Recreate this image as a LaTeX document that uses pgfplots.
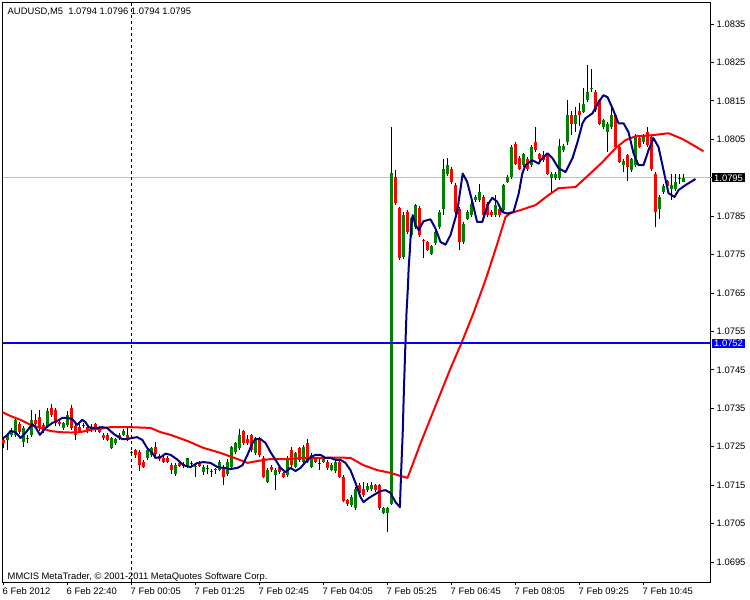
\documentclass[border=0pt]{standalone}
\usepackage{fontspec}
\setmainfont{Liberation Sans}
\usepackage{pgfplots}
\usepackage{pgfplotstable}
\pgfplotsset{compat=1.18}

\definecolor{mtgreen}{HTML}{008000}
\definecolor{mtred}{HTML}{FF0000}
\definecolor{mtnavy}{HTML}{000080}
\definecolor{mtsilver}{HTML}{C0C0C0}
\definecolor{mtblue}{HTML}{0000FF}

\newcommand\mtfont{\fontsize{9.4}{11}\selectfont}

% AUDUSD M5 bars: index, open, high, low, close
\pgfplotstableread{
i o h l c
0 1.07268 1.07275 1.07246 1.07259
1 1.07268 1.07285 1.07242 1.07281
2 1.07281 1.07298 1.07275 1.07291
3 1.07281 1.07328 1.07275 1.07320
4 1.07308 1.07315 1.07283 1.07289
5 1.07263 1.07303 1.07250 1.07298
6 1.07272 1.07281 1.07259 1.07273
7 1.07281 1.07346 1.07275 1.07320
8 1.07320 1.07335 1.07303 1.07308
9 1.07328 1.07346 1.07290 1.07298
10 1.07307 1.07312 1.07286 1.07291
11 1.07305 1.07350 1.07300 1.07342
12 1.07350 1.07361 1.07328 1.07333
13 1.07346 1.07352 1.07305 1.07311
14 1.07315 1.07320 1.07303 1.07308
15 1.07298 1.07315 1.07293 1.07311
16 1.07307 1.07342 1.07302 1.07333
17 1.07350 1.07359 1.07293 1.07298
18 1.07305 1.07310 1.07268 1.07281
19 1.07302 1.07308 1.07286 1.07291
20 1.07305 1.07312 1.07298 1.07304
21 1.07302 1.07307 1.07286 1.07291
22 1.07294 1.07308 1.07289 1.07302
23 1.07308 1.07313 1.07288 1.07294
24 1.07301 1.07305 1.07285 1.07289
25 1.07281 1.07286 1.07268 1.07272
26 1.07281 1.07285 1.07264 1.07268
27 1.07248 1.07276 1.07244 1.07272
28 1.07259 1.07274 1.07255 1.07269
29 1.07281 1.07285 1.07268 1.07272
30 1.07281 1.07296 1.07277 1.07291
31 1.07281 1.07302 1.07265 1.07269
32 1.07236 1.07239 1.07229 1.07237
33 1.07241 1.07243 1.07220 1.07228
34 1.07237 1.07241 1.07187 1.07202
35 1.07211 1.07215 1.07194 1.07198
36 1.07220 1.07245 1.07215 1.07241
37 1.07228 1.07250 1.07224 1.07246
38 1.07250 1.07263 1.07225 1.07230
39 1.07226 1.07230 1.07213 1.07217
40 1.07222 1.07226 1.07207 1.07211
41 1.07222 1.07225 1.07207 1.07211
42 1.07203 1.07208 1.07178 1.07190
43 1.07178 1.07207 1.07174 1.07203
44 1.07207 1.07210 1.07198 1.07201
45 1.07205 1.07210 1.07195 1.07200
46 1.07198 1.07222 1.07194 1.07220
47 1.07206 1.07213 1.07200 1.07207
48 1.07198 1.07204 1.07172 1.07199
49 1.07209 1.07213 1.07197 1.07200
50 1.07185 1.07202 1.07176 1.07198
51 1.07194 1.07203 1.07180 1.07195
52 1.07185 1.07191 1.07172 1.07186
53 1.07190 1.07196 1.07180 1.07191
54 1.07189 1.07215 1.07186 1.07211
55 1.07198 1.07202 1.07150 1.07172
56 1.07178 1.07217 1.07174 1.07211
57 1.07198 1.07252 1.07194 1.07249
58 1.07237 1.07263 1.07230 1.07259
59 1.07246 1.07296 1.07241 1.07281
60 1.07290 1.07294 1.07254 1.07259
61 1.07270 1.07280 1.07255 1.07259
62 1.07281 1.07284 1.07237 1.07242
63 1.07233 1.07276 1.07228 1.07272
64 1.07272 1.07275 1.07223 1.07228
65 1.07220 1.07225 1.07168 1.07172
66 1.07159 1.07194 1.07155 1.07190
67 1.07198 1.07203 1.07185 1.07190
68 1.07176 1.07194 1.07137 1.07190
69 1.07198 1.07203 1.07180 1.07185
70 1.07181 1.07185 1.07168 1.07172
71 1.07176 1.07225 1.07172 1.07220
72 1.07242 1.07250 1.07198 1.07203
73 1.07198 1.07237 1.07194 1.07233
74 1.07246 1.07250 1.07210 1.07216
75 1.07211 1.07254 1.07207 1.07250
76 1.07259 1.07270 1.07207 1.07211
77 1.07198 1.07233 1.07194 1.07229
78 1.07220 1.07223 1.07207 1.07211
79 1.07206 1.07217 1.07190 1.07207
80 1.07211 1.07226 1.07207 1.07222
81 1.07211 1.07215 1.07190 1.07194
82 1.07190 1.07207 1.07186 1.07203
83 1.07187 1.07215 1.07183 1.07211
84 1.07211 1.07215 1.07168 1.07172
85 1.07172 1.07176 1.07105 1.07109
86 1.07111 1.07115 1.07096 1.07100
87 1.07098 1.07124 1.07094 1.07120
88 1.07090 1.07144 1.07086 1.07140
89 1.07150 1.07155 1.07124 1.07129
90 1.07140 1.07159 1.07120 1.07124
91 1.07137 1.07155 1.07133 1.07148
92 1.07140 1.07159 1.07135 1.07150
93 1.07150 1.07153 1.07133 1.07137
94 1.07150 1.07154 1.07086 1.07090
95 1.07078 1.07093 1.07074 1.07090
96 1.07077 1.07094 1.07029 1.07090
97 1.07102 1.08082 1.07098 1.07962
98 1.07952 1.07970 1.07880 1.07884
99 1.07871 1.07875 1.07736 1.07741
100 1.07744 1.07860 1.07738 1.07853
101 1.07861 1.07866 1.07805 1.07809
102 1.07801 1.07848 1.07797 1.07845
103 1.07822 1.07882 1.07818 1.07879
104 1.07871 1.07876 1.07797 1.07801
105 1.07789 1.07791 1.07741 1.07787
106 1.07782 1.07786 1.07759 1.07762
107 1.07752 1.07775 1.07749 1.07772
108 1.07780 1.07812 1.07776 1.07809
109 1.07822 1.07865 1.07818 1.07861
110 1.07870 1.08000 1.07853 1.07974
111 1.07961 1.08002 1.07955 1.07983
112 1.07974 1.07978 1.07935 1.07940
113 1.07931 1.07936 1.07855 1.07861
114 1.07870 1.07874 1.07762 1.07783
115 1.07783 1.07835 1.07778 1.07831
116 1.07844 1.07866 1.07840 1.07861
117 1.07853 1.07892 1.07849 1.07883
118 1.07892 1.07906 1.07886 1.07901
119 1.07892 1.07935 1.07888 1.07912
120 1.07901 1.07906 1.07848 1.07853
121 1.07883 1.07888 1.07848 1.07853
122 1.07861 1.07866 1.07849 1.07853
123 1.07853 1.07905 1.07849 1.07879
124 1.07870 1.07875 1.07849 1.07853
125 1.07866 1.07935 1.07860 1.07931
126 1.07940 1.07958 1.07936 1.07953
127 1.07953 1.08036 1.07948 1.08031
128 1.08039 1.08044 1.07983 1.07987
129 1.08002 1.08006 1.07970 1.07974
130 1.07983 1.08015 1.07979 1.08011
131 1.08000 1.08004 1.07968 1.07972
132 1.07983 1.08036 1.07979 1.08031
133 1.08042 1.08083 1.08018 1.08022
134 1.08011 1.08015 1.07996 1.08000
135 1.08010 1.08020 1.07992 1.07996
136 1.08011 1.08015 1.07957 1.07961
137 1.07950 1.07965 1.07913 1.07961
138 1.07950 1.07965 1.07945 1.07961
139 1.07950 1.08050 1.07945 1.08033
140 1.08022 1.08037 1.08018 1.08033
141 1.08044 1.08152 1.08035 1.08113
142 1.08113 1.08125 1.08061 1.08091
143 1.08091 1.08135 1.08069 1.08113
144 1.08123 1.08145 1.08085 1.08113
145 1.08122 1.08185 1.08118 1.08141
146 1.08152 1.08243 1.08148 1.08174
147 1.08182 1.08234 1.08174 1.08184
148 1.08174 1.08178 1.08122 1.08126
149 1.08152 1.08156 1.08087 1.08091
150 1.08082 1.08104 1.08078 1.08100
151 1.08070 1.08095 1.08018 1.08091
152 1.08082 1.08135 1.08078 1.08113
153 1.08113 1.08117 1.08027 1.08031
154 1.08031 1.08035 1.07988 1.07992
155 1.07983 1.08000 1.07965 1.07993
156 1.08009 1.08013 1.07941 1.07978
157 1.07970 1.08002 1.07966 1.07998
158 1.07983 1.08063 1.07979 1.08059
159 1.08054 1.08058 1.08027 1.08031
160 1.08042 1.08063 1.08038 1.08059
161 1.08070 1.08083 1.08031 1.08035
162 1.08056 1.08060 1.07969 1.07974
163 1.07961 1.07965 1.07822 1.07861
164 1.07870 1.07905 1.07844 1.07901
165 1.07912 1.07933 1.07908 1.07929
166 1.07941 1.07945 1.07925 1.07929
167 1.07920 1.07961 1.07892 1.07931
168 1.07922 1.07961 1.07916 1.07939
169 1.07948 1.07961 1.07935 1.07949
170 1.07940 1.07960 1.07940 1.07950
}\candles

% fast moving average (navy)
\pgfplotstableread{
i v
0 1.07273
1 1.07281
1.75 1.07291
3 1.07288
4.25 1.07273
5.5 1.07286
7.2 1.07309
8 1.07301
9.1 1.07281
10.5 1.07299
12.2 1.07312
13.4 1.07317
14.7 1.07325
16 1.07325
17.2 1.07322
18.4 1.07307
19.7 1.07320
20.5 1.07314
21.3 1.07301
22.2 1.07299
23.4 1.07299
24.7 1.07301
25.9 1.07299
27.6 1.07283
28.8 1.07275
29.7 1.07270
30.9 1.07270
32.2 1.07273
33.4 1.07275
34.7 1.07268
35.9 1.07247
37.2 1.07234
38 1.07221
39.3 1.07223
40.5 1.07232
41.75 1.07229
43.4 1.07217
45 1.07202
46.75 1.07197
48.5 1.07208
50 1.07210
51.75 1.07208
53.5 1.07197
55 1.07195
56.75 1.07192
58.5 1.07195
59.75 1.07202
61 1.07229
62.25 1.07260
63 1.07270
64.25 1.07270
65.5 1.07260
66.75 1.07236
68 1.07216
69.25 1.07195
70.5 1.07184
71.75 1.07195
73 1.07187
74.25 1.07195
75.5 1.07210
76.75 1.07223
78 1.07229
79.25 1.07229
80.5 1.07221
81.75 1.07221
83 1.07216
84.25 1.07216
85.5 1.07208
86.75 1.07189
88 1.07156
89.25 1.07119
90 1.07106
91.25 1.07116
92.5 1.07124
94.25 1.07135
95.5 1.07137
96.75 1.07130
98 1.07106
99.1 1.07093
99.4 1.07182
99.8 1.07286
100.1 1.07398
100.4 1.07494
100.75 1.07598
101.1 1.07666
101.3 1.07718
101.6 1.07762
101.9 1.07822
102.3 1.07853
103 1.07827
103.8 1.07814
105 1.07837
106.75 1.07842
108 1.07818
109.25 1.07783
110.5 1.07776
111.75 1.07801
113.4 1.07861
114.8 1.07961
115.9 1.07940
117.2 1.07888
118.4 1.07835
119.7 1.07835
121 1.07879
122.2 1.07898
123.4 1.07888
124.7 1.07861
125.9 1.07857
127.5 1.07861
128.8 1.07909
129.7 1.07961
130.5 1.07983
132.2 1.07996
133.8 1.07987
134.25 1.07996
136 1.08014
137.25 1.08001
138.75 1.07975
140.5 1.07965
142.25 1.08001
143.5 1.08043
144.75 1.08092
145.5 1.08105
147.25 1.08118
148.75 1.08147
150 1.08165
151 1.08160
152.25 1.08131
153.75 1.08092
155 1.08092
156.25 1.08069
157.5 1.08014
158.75 1.07983
160 1.07983
161.25 1.08022
162.5 1.08053
163.75 1.08030
165 1.07970
166.25 1.07910
167.75 1.07900
168.75 1.07918
170.5 1.07931
173 1.07947
}\fastma

% slow moving average (red)
\pgfplotstableread{
i v
-0.25 1.07340
1.75 1.07330
4.25 1.07320
6.75 1.07307
9.25 1.07299
11.75 1.07291
14.25 1.07288
16.75 1.07287
19.25 1.07288
21.75 1.07294
24.25 1.07297
26.75 1.07301
29.25 1.07301
31.75 1.07301
34.25 1.07300
36.75 1.07299
39.25 1.07288
41.75 1.07281
46 1.07265
50 1.07247
54.25 1.07234
58.5 1.07218
61 1.07208
63.5 1.07213
66.75 1.07218
71 1.07218
75 1.07221
79.25 1.07221
83.5 1.07222
86.75 1.07221
90 1.07202
93.5 1.07189
96.75 1.07182
99.25 1.07174
101 1.07169
102.5 1.07210
104.25 1.07259
106.75 1.07324
109.25 1.07389
111.75 1.07454
114.5 1.07520
117.5 1.07598
120.5 1.07684
123.5 1.07780
125.5 1.07848
126.75 1.07858
129.25 1.07866
133 1.07879
136.25 1.07905
138.75 1.07923
143 1.07926
146.25 1.07957
149.75 1.07991
153 1.08027
155.5 1.08048
158 1.08058
162.25 1.08061
166.25 1.08066
169.75 1.08051
173.75 1.08027
175 1.08019
}\slowma

\begin{document}
\begin{tikzpicture}
\useasboundingbox (-2pt,-18pt) rectangle (748pt,582pt);
\begin{axis}[
    at={(0.5pt,0pt)}, anchor=south west,
    width=708pt, height=579pt, scale only axis,
    xmin=-0.25, xmax=176.75,
    ymin=1.06898, ymax=1.08405,
    clip=false,
    axis line style={black, line width=1pt},
    tick style={black, line width=1pt},
    tick align=outside,
    major tick length=3pt,
    xtick pos=bottom, ytick pos=right,
    yticklabel pos=right,
    xtick={0,16,32,48,64,80,96,112,128,144,160},
    xticklabels={6 Feb 2012, 6 Feb 22:40, 7 Feb 00:05, 7 Feb 01:25, 7 Feb 02:45,
        7 Feb 04:05, 7 Feb 05:25, 7 Feb 06:45, 7 Feb 08:05, 7 Feb 09:25, 7 Feb 10:45},
    ytick={1.0695,1.0705,1.0715,1.0725,1.0735,1.0745,1.0755,1.0765,1.0775,1.0785,1.0795,1.0805,1.0815,1.0825,1.0835},
    yticklabels={1.0695,1.0705,1.0715,1.0725,1.0735,1.0745,1.0755,1.0765,1.0775,1.0785,{},1.0805,1.0815,1.0825,1.0835},
    ticklabel style={font=\mtfont},
    xticklabel style={anchor=north west, inner sep=0pt, xshift=-1pt, yshift=-2pt},
    yticklabel style={anchor=west, inner sep=0pt, xshift=3pt},
]
% bid line
\addplot[mtsilver, line width=1pt, forget plot] coordinates {(-0.25,1.0795) (176.75,1.0795)};

% rising bodies (zero length for falling bars)
\addplot[color=mtgreen, draw=none, mark=none, forget plot,
    error bars/.cd, y dir=plus, y explicit, error mark=none,
    error bar style={color=mtgreen, draw=mtgreen, line width=3pt}]
    table[x=i, y expr={min(\thisrow{o},\thisrow{c})},
          y error plus expr={0.5*(abs(\thisrow{c}-\thisrow{o})+\thisrow{c}-\thisrow{o})}] {\candles};
% falling bodies (zero length for rising bars)
\addplot[color=mtred, draw=none, mark=none, forget plot,
    error bars/.cd, y dir=plus, y explicit, error mark=none,
    error bar style={color=mtred, draw=mtred, line width=3pt}]
    table[x=i, y expr={min(\thisrow{o},\thisrow{c})},
          y error plus expr={0.5*(abs(\thisrow{c}-\thisrow{o})+\thisrow{o}-\thisrow{c})}] {\candles};
% lower wicks
\addplot[draw=none, mark=none, forget plot,
    error bars/.cd, y dir=plus, y explicit, error mark=none,
    error bar style={draw=black, line width=1pt}]
    table[x=i, y=l, y error plus expr={min(\thisrow{o},\thisrow{c})-\thisrow{l}}] {\candles};
% upper wicks
\addplot[draw=none, mark=none, forget plot,
    error bars/.cd, y dir=plus, y explicit, error mark=none,
    error bar style={draw=black, line width=1pt}]
    table[x=i, y expr={max(\thisrow{o},\thisrow{c})},
          y error plus expr={\thisrow{h}-max(\thisrow{o},\thisrow{c})}] {\candles};

% moving averages
\addplot[mtred, line width=2pt, line join=round] table[x=i, y=v] {\slowma};
\addplot[mtnavy, line width=2pt, line join=round] table[x=i, y=v] {\fastma};

% level line and period separator
\addplot[mtblue, line width=2pt] coordinates {(-0.25,1.0752) (176.75,1.0752)};
\addplot[black, line width=1pt, dash pattern=on 3pt off 3pt] coordinates {(32,1.06898) (32,1.08405)};

\node[anchor=base west, font=\mtfont, inner sep=0pt] at ([xshift=5pt,yshift=-12pt]rel axis cs:0,1)
    {AUDUSD,M5\ \ 1.0794 1.0796 1.0794 1.0795};
\node[anchor=base west, font=\mtfont, inner sep=0pt] at ([xshift=5pt,yshift=3pt]rel axis cs:0,0)
    {MMCIS MetaTrader, © 2001-2011 MetaQuotes Software Corp.};
\node[anchor=west, fill=black, text=white, font=\mtfont, inner xsep=2.5pt, inner ysep=1.2pt,
    text height=6.6pt, text depth=0pt] at ([xshift=1pt]axis cs:176.75,1.0795) {1.0795};
\node[anchor=west, fill=mtblue, text=white, font=\mtfont, inner xsep=2.5pt, inner ysep=1.2pt,
    text height=6.6pt, text depth=0pt] at ([xshift=1pt]axis cs:176.75,1.0752) {1.0752};
\end{axis}
\end{tikzpicture}
\end{document}
